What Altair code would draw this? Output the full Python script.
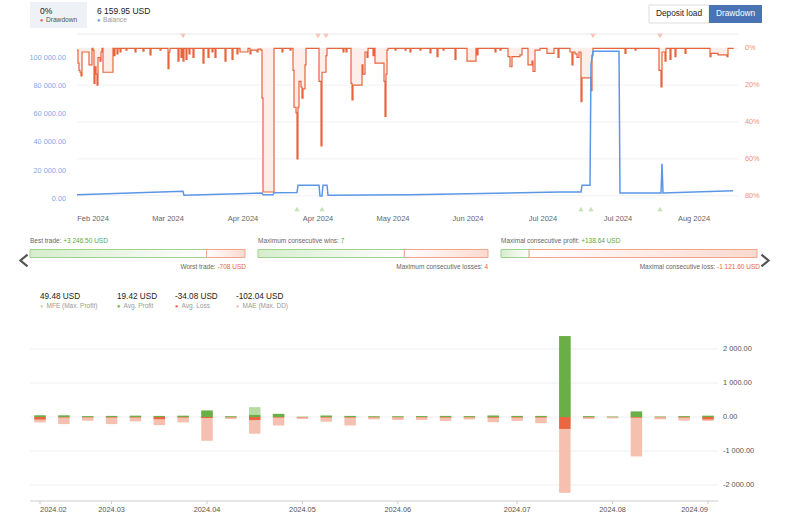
import altair as alt
import pandas as pd

FONT = "Liberation Sans"

# ---------------- top chart data ----------------
dd_step = [0, 1, 2, 3, 4, 5, 11, 12, 14, 15, 16, 17, 18, 19, 20, 21, 23, 24, 25, 26, 35, 36, 37, 38, 40, 41,
           43, 44, 49, 50, 58, 59, 66, 67, 73, 74, 83, 84, 91, 92, 93, 101, 102, 104, 105, 106, 107, 109, 110,
           112, 113, 116, 117, 126, 127, 131, 132, 135, 136, 138, 139, 148, 149, 155, 156, 160, 161, 163, 170,
           171, 173, 174, 180, 181, 184, 185, 186, 196, 197, 205, 206, 213, 214, 216, 217, 219, 220, 221, 222,
           224, 225, 226, 228, 229, 241, 242, 244, 245, 248, 249, 250, 266, 267, 269, 270, 274, 275, 276, 284,
           285, 286, 288, 290, 291, 296, 297, 298, 306, 307, 308, 309, 310, 311, 318, 319, 328, 329, 333, 334,
           343, 344, 353, 354, 360, 361, 366, 367, 378, 379, 390, 398, 399, 400, 401, 418, 419, 423, 424, 431,
           433, 435, 443, 445, 451, 453, 455, 456, 458, 463, 470, 476, 477, 481, 482, 493, 495, 496, 498, 500,
           502, 504, 505, 513, 514, 515, 516, 548, 549, 558, 559, 582, 584, 585, 588, 589, 593, 594, 598, 599,
           608, 609, 633, 634, 639, 641, 649, 650, 651, 656]
dd_pct = [1, 8, 12, 13, 15, 2, 2, 9, 9, 0, 1, 19, 10, 14, 20, 5, 7, 2, 0, 13, 13, 0, 4, 0, 3, 0,
          2, 0, 1, 0, 2, 0, 1.5, 0, 3.6, 0, 1, 0, 11, 2, 0, 7, 0, 5, 0, 7, 0, 6, 0,
          3, 0, 5, 0, 8, 0, 5, 0, 2, 0, 5, 0, 7, 0, 6, 0, 3, 0, 2, 2,
          0, 3, 1, 2, 0.5, 1, 27, 78, 78, 0, 2, 0, 1, 0, 12, 32, 35, 60, 32, 18,
          21, 27, 22, 9, 0, 0, 18, 53, 13, 13, 4, 0, 2, 0, 2, 0, 19, 28, 20, 20,
          9, 14, 2, 5, 0, 4, 0, 8, 8, 18, 37, 14, 1, 0, 1, 0, 1, 0, 2, 0,
          1, 0, 2.5, 0, 4.5, 0, 1, 0, 6, 0, 7, 7, 0, 3.6, 0, 2, 0, 1, 0, 4.5,
          10, 4.5, 3.6, 0, 9, 9, 7, 12.6, 1, 0, 2.7, 2.7, 0, 5, 0, 2, 9, 2, 3, 5,
          2, 29, 16, 16, 23, 4, 0, 2.7, 0, 1, 0, 12, 21, 2, 7, 0, 6, 0, 4.5, 0,
          2.7, 0, 4.5, 2.7, 2.7, 3.6, 3.6, 4.5, 0, 0.5]

bal_step = [0, 106, 107, 185, 186, 196, 197, 220, 221, 242, 243, 245, 246, 250, 251, 333, 483, 504, 505,
            513, 514, 516, 542, 543, 584, 585, 586, 656]
bal_usd = [3000, 5400, 2600, 4200, 3000, 3000, 4400, 4600, 9700, 9700, 2100, 2100, 9700, 9700, 2600, 3000,
           5000, 5000, 9700, 9700, 95000, 104500, 104500, 4200, 4200, 25000, 4300, 5900]

top_marker_step = [106, 241, 249, 516, 583]
bottom_marker_step = [220, 245, 504, 514, 583]

month_pos = [16, 91, 166, 241, 316, 391, 466, 541, 617]
month_lbl = ["Feb 2024", "Mar 2024", "Apr 2024", "Apr 2024", "May 2024", "Jun 2024", "Jul 2024",
             "Jul 2024", "Aug 2024"]
bal_ticks = [0, 20000, 40000, 60000, 80000, 100000]
dd_ticks = [0, 20, 40, 60, 80]

header_dd = "0%"
header_dd_lbl = "Drawdown"
header_bal = "6 159.95 USD"
header_bal_lbl = "Balance"
buttons = ["Deposit load", "Drawdown"]

# ---------------- stats bars ----------------
stat_good = [3246.50, 7, 138.64]
stat_bad = [708, 4, 1121.60]
stat_top_lbl = ["Best trade:", "Maximum consecutive wins:", "Maximal consecutive profit:"]
stat_top_val = ["+3 246.50 USD", "7", "+138.64 USD"]
stat_bot_lbl = ["Worst trade:", "Maximum consecutive losses:", "Maximal consecutive loss:"]
stat_bot_val = ["-708 USD", "4", "-1 121.60 USD"]

# ---------------- weekly MFE/MAE chart ----------------
week = list(range(29))
mfe = [55, 50, 30, 35, 40, 35, 40, 190, 25, 290, 95, 10, 45, 35, 25, 25, 30, 35, 30, 45, 35, 35, 2380,
       30, 15, 165, 15, 30, 40]
profit = [45, 45, 25, 30, 35, 30, 35, 190, 20, 60, 90, 5, 40, 30, 20, 20, 25, 30, 25, 40, 30, 30, 2380,
          25, 10, 160, 10, 25, 35]
loss = [-75, -15, -10, -15, -15, -65, -15, -30, -10, -90, -15, -10, -15, -15, -10, -10, -10, -15, -10, -20,
        -15, -15, -350, -10, -5, -20, -10, -15, -70]
mae = [-160, -210, -110, -210, -130, -240, -160, -700, -60, -490, -250, -60, -140, -250, -70, -90, -90,
       -115, -70, -155, -115, -185, -2230, -60, -40, -1160, -70, -105, -115]
legend_val = ["49.48 USD", "19.42 USD", "-34.08 USD", "-102.04 USD"]
legend_lbl = ["MFE (Max. Profit)", "Avg. Profit", "Avg. Loss", "MAE (Max. DD)"]
week_tick_idx = [0, 3, 7, 11, 15, 20, 24, 28]
week_tick_lbl = ["2024.02", "2024.03", "2024.04", "2024.05", "2024.06", "2024.07", "2024.08", "2024.09"]
val_ticks = [-2000, -1000, 0, 1000, 2000]

# ---------------- helpers ----------------
W = {' ': .278, '.': .278, ',': .278, ':': .278, '+': .584, '-': .333, '%': .889, '(': .333, ')': .333,
     'U': .722, 'S': .667, 'D': .722, 'B': .667, 'W': .944, 'M': .833, 'F': .611, 'E': .667, 'A': .667,
     'P': .667, 'a': .556, 'b': .556, 'c': .5, 'd': .556, 'e': .556, 'f': .278, 'g': .556, 'h': .556,
     'i': .222, 'k': .5, 'l': .222, 'm': .833, 'n': .556, 'o': .556, 'p': .556, 'r': .333, 's': .5,
     't': .278, 'u': .556, 'v': .5, 'w': .722, 'x': .5, 'y': .5}


def tw(s, size):
    return sum(W.get(c, .556) for c in s) * size


def fmt(v):
    return f"{v:,.2f}".replace(",", " ")


def lin(domain, rng):
    return alt.Scale(domain=domain, range=rng, nice=False, zero=False)


def label(text, x, y, size, color, align="left", weight="normal"):
    return alt.Chart(pd.DataFrame({"t": [text]})).mark_text(
        align=align, baseline="middle", fontSize=size, color=color, font=FONT, fontWeight=weight
    ).encode(x=alt.value(x), y=alt.value(y), text="t:N")


def box(x0, x1, y0, y1, fill, stroke=None):
    kw = dict(fill=fill)
    if stroke:
        kw.update(stroke=stroke, strokeWidth=1)
    return alt.Chart(pd.DataFrame({"a": [0]})).mark_rect(**kw).encode(
        x=alt.value(x0), x2=alt.value(x1), y=alt.value(y0), y2=alt.value(y1))


layers = []

# ---------------- header ----------------
layers.append(box(30, 87, 2, 28, "#eef1f6"))
layers.append(label(header_dd, 40, 11, 8.5, "#222"))
layers.append(label("●", 40, 20, 5.5, "#e8643c"))
layers.append(label(header_dd_lbl, 46, 20, 6.6, "#555"))
layers.append(label(header_bal, 97, 11, 8.5, "#222"))
layers.append(label("●", 97, 20, 5.5, "#5b97e6"))
layers.append(label(header_bal_lbl, 103, 20, 6.6, "#9a9a9a"))
layers.append(box(649, 709, 5, 23, "#ffffff", "#dddddd"))
layers.append(box(709, 762, 5, 23, "#4a73b6"))
layers.append(label(buttons[0], 679, 14, 8.3, "#222", "center"))
layers.append(label(buttons[1], 735.5, 14, 8.3, "#ffffff", "center"))

# ---------------- top chart ----------------
XT = lin([0, 661], [77, 738])
YD = lin([0, 80], [48.3, 195.7])
YB = lin([0, 100000], [199, 57.7])

layers.append(box(77, 738, 33.5, 34.5, "#e9e9e9"))
layers.append(alt.Chart(pd.DataFrame({"v": dd_ticks})).mark_rule(color="#f1f1f1", strokeWidth=1).encode(
    y=alt.Y("v:Q", scale=YD, axis=None), x=alt.value(77), x2=alt.value(738)))

dd_df = pd.DataFrame({"s": dd_step, "d": dd_pct, "z": 0})
layers.append(alt.Chart(dd_df).mark_area(color="#fdeeea", opacity=1, interpolate="step-after").encode(
    x=alt.X("s:Q", scale=XT, axis=None), y=alt.Y("d:Q", scale=YD, axis=None), y2="z:Q"))
layers.append(alt.Chart(dd_df).mark_line(color="#e8643c", strokeWidth=1.2, interpolate="step-after").encode(
    x=alt.X("s:Q", scale=XT, axis=None), y=alt.Y("d:Q", scale=YD, axis=None)))
layers.append(alt.Chart(pd.DataFrame({"s": bal_step, "b": bal_usd})).mark_line(
    color="#5b97e6", strokeWidth=1.5).encode(
    x=alt.X("s:Q", scale=XT, axis=None), y=alt.Y("b:Q", scale=YB, axis=None)))

layers.append(alt.Chart(pd.DataFrame({"s": top_marker_step})).mark_point(
    shape="triangle-down", filled=True, size=26, color="#f6c2b2", opacity=1).encode(
    x=alt.X("s:Q", scale=XT, axis=None), y=alt.value(36)))
layers.append(alt.Chart(pd.DataFrame({"s": bottom_marker_step})).mark_point(
    shape="triangle-up", filled=True, size=26, color="#c3e2b2", opacity=1).encode(
    x=alt.X("s:Q", scale=XT, axis=None), y=alt.value(209)))

layers.append(alt.Chart(pd.DataFrame({"v": bal_ticks, "t": [fmt(v) for v in bal_ticks]})).mark_text(
    align="right", baseline="middle", fontSize=7.3, color="#7ea9ea", font=FONT).encode(
    y=alt.Y("v:Q", scale=YB, axis=None), x=alt.value(66), text="t:N"))
layers.append(alt.Chart(pd.DataFrame({"v": dd_ticks, "t": [f"{v}%" for v in dd_ticks]})).mark_text(
    align="left", baseline="middle", fontSize=7.3, color="#f0916c", font=FONT).encode(
    y=alt.Y("v:Q", scale=YD, axis=None), x=alt.value(745), text="t:N"))
layers.append(alt.Chart(pd.DataFrame({"p": month_pos, "t": month_lbl})).mark_text(
    align="center", baseline="middle", fontSize=7.5, color="#666", font=FONT).encode(
    x=alt.X("p:Q", scale=XT, axis=None), y=alt.value(219), text="t:N"))

# ---------------- stats bars ----------------
bar_px = [(30, 245), (258, 488), (501, 757)]
right_edge = [246, 488, 760]
g_grad = alt.LinearGradient(gradient="linear", x1=0, x2=1, y1=0, y2=0,
                            stops=[alt.GradientStop(color="#d6edcd", offset=0),
                                   alt.GradientStop(color="#ffffff", offset=1)])
r_grad = alt.LinearGradient(gradient="linear", x1=0, x2=1, y1=0, y2=0,
                            stops=[alt.GradientStop(color="#ffffff", offset=0),
                                   alt.GradientStop(color="#fbd9cf", offset=1)])
SZ = 6.5
GAP = tw(" ", SZ)
for i in range(3):
    g, b = stat_good[i], stat_bad[i]
    sc = lin([0, g + b], list(bar_px[i]))
    layers.append(alt.Chart(pd.DataFrame({"a": [0], "b": [g]})).mark_rect(
        fill=g_grad, stroke="#9fd38f", strokeWidth=1).encode(
        x=alt.X("a:Q", scale=sc, axis=None), x2="b:Q", y=alt.value(249.5), y2=alt.value(257.5)))
    layers.append(alt.Chart(pd.DataFrame({"a": [g], "b": [g + b]})).mark_rect(
        fill=r_grad, stroke="#f4a48e", strokeWidth=1).encode(
        x=alt.X("a:Q", scale=sc, axis=None), x2="b:Q", y=alt.value(249.5), y2=alt.value(257.5)))
    x0 = bar_px[i][0]
    layers.append(label(stat_top_lbl[i], x0, 241, SZ, "#666"))
    layers.append(label(stat_top_val[i], x0 + tw(stat_top_lbl[i], SZ) + GAP, 241, SZ, "#5aa83a"))
    xr = right_edge[i]
    layers.append(label(stat_bot_val[i], xr, 267, SZ, "#e8643c", "right"))
    layers.append(label(stat_bot_lbl[i], xr - tw(stat_bot_val[i], SZ) - GAP, 267, SZ, "#666", "right"))

# nav chevrons
for xx, path in [(24, "M 0.6 -1 L -0.6 0 L 0.6 1"), (765, "M -0.6 -1 L 0.6 0 L -0.6 1")]:
    layers.append(alt.Chart(pd.DataFrame({"a": [0]})).mark_point(
        shape=path, filled=False, stroke="#555", strokeWidth=2.2, size=140, opacity=1).encode(
        x=alt.value(xx), y=alt.value(260.5)))

# ---------------- weekly chart ----------------
XW = lin([-0.42, 28.42], [30, 718])
YW = lin([-2000, 2000], [485, 349])

leg_x = [40, 117, 175, 236]
leg_col = ["#b7dba5", "#6aae47", "#ea6641", "#f5c0b0"]
for i in range(4):
    layers.append(label(legend_val[i], leg_x[i], 297, 8.2, "#222"))
    layers.append(label("●", leg_x[i], 305.5, 5.5, leg_col[i]))
    layers.append(label(legend_lbl[i], leg_x[i] + 6.5, 305.5, 6.5, "#9a9a9a"))

layers.append(alt.Chart(pd.DataFrame({"v": val_ticks})).mark_rule(color="#efefef", strokeWidth=1).encode(
    y=alt.Y("v:Q", scale=YW, axis=None), x=alt.value(30), x2=alt.value(718)))
layers.append(box(30, 718, 500, 502, "#e6e6e6"))

wk = pd.DataFrame({"w": week, "mfe": mfe, "profit": profit, "loss": loss, "mae": mae})
wk["x0"] = wk["w"] - 0.24
wk["x1"] = wk["w"] + 0.24
wk["z"] = 0
for col, c in [("mfe", leg_col[0]), ("profit", leg_col[1]), ("mae", leg_col[3]), ("loss", leg_col[2])]:
    layers.append(alt.Chart(wk).mark_rect(color=c, opacity=1).encode(
        x=alt.X("x0:Q", scale=XW, axis=None), x2="x1:Q",
        y=alt.Y(f"{col}:Q", scale=YW, axis=None), y2="z:Q"))

layers.append(alt.Chart(pd.DataFrame({"v": val_ticks, "t": [fmt(v) for v in val_ticks]})).mark_text(
    align="left", baseline="middle", fontSize=7.4, color="#555", font=FONT).encode(
    y=alt.Y("v:Q", scale=YW, axis=None), x=alt.value(723), text="t:N"))

ticks = pd.DataFrame({"w": week_tick_idx, "t": week_tick_lbl})
layers.append(alt.Chart(ticks).mark_rule(color="#cccccc").encode(
    x=alt.X("w:Q", scale=XW, axis=None), y=alt.value(501), y2=alt.value(504)))
for sub, al in [(ticks.iloc[[0]], "left"), (ticks.iloc[1:-1], "center"), (ticks.iloc[[-1]], "right")]:
    layers.append(alt.Chart(sub).mark_text(
        align=al, baseline="middle", fontSize=7.4, color="#555", font=FONT).encode(
        x=alt.X("w:Q", scale=XW, axis=None), y=alt.value(510), text="t:N"))

chart = alt.layer(*layers).resolve_scale(x="independent", y="independent").properties(
    width=790, height=516, autosize=alt.AutoSizeParams(type="none"), padding=0,
    background="white").configure_view(stroke=None)

chart.save("out.html", embed_options={"renderer": "svg", "actions": False})
